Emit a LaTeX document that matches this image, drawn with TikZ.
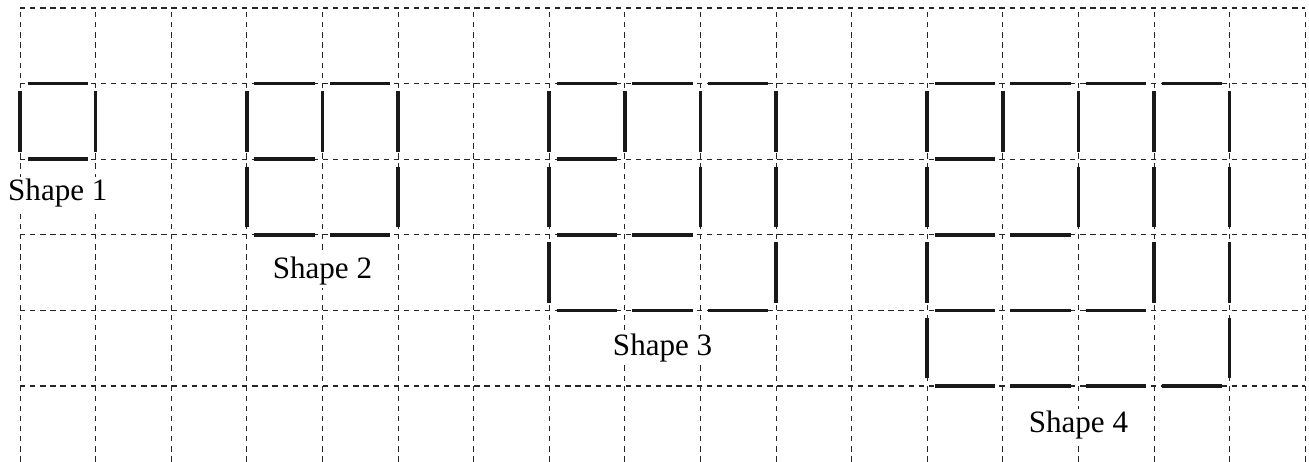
\documentclass[tikz,border=0pt]{standalone}
\usepackage{fontspec}
\setmainfont{Liberation Serif}

\tikzset{
    gridline/.style={dash pattern=on 2pt off 1.8pt, line width=0.4pt, black!85},
    stick/.style={line width=1.4pt, black!90},
    shapelabel/.style={anchor=base, inner sep=1pt, fill=white, font=\fontsize{11.7}{14}\selectfont}
}

\begin{document}
\begin{tikzpicture}
    \useasboundingbox (-0.265,0) rectangle (17.05,6.106);

    % dotted squared paper
    \foreach \x in {0,...,17} \draw[gridline] (\x,0) -- (\x,6);
    \foreach \y in {1,...,6} \draw[gridline] (0,\y) -- (17,\y);

    % horizontal matches (left end of the cell edge)
    \foreach \x/\y in {0/5, 0/4,
                       3/5, 4/5, 3/4, 3/3, 4/3,
                       7/5, 8/5, 9/5, 7/4, 7/3, 8/3, 7/2, 8/2, 9/2,
                       12/5, 13/5, 14/5, 15/5, 12/4, 12/3, 13/3,
                       12/2, 13/2, 14/2, 12/1, 13/1, 14/1, 15/1}
        \draw[stick] (\x+0.1,\y) -- (\x+0.9,\y);

    % vertical matches (lower end of the cell edge)
    \foreach \x/\y in {0/4, 1/4,
                       3/4, 4/4, 5/4, 3/3, 5/3,
                       7/4, 8/4, 9/4, 10/4, 7/3, 9/3, 10/3, 7/2, 10/2,
                       12/4, 13/4, 14/4, 15/4, 16/4, 12/3, 14/3, 15/3, 16/3,
                       12/2, 15/2, 16/2, 12/1, 16/1}
        \draw[stick] (\x,\y+0.1) -- (\x,\y+0.9);

    \node[shapelabel] at (0.5, 3.45) (S1) {Shape 1};
    \node[shapelabel] at (4, 2.42) (S2) {Shape 2};
    \node[shapelabel] at (8.5, 1.40) (S3) {Shape 3};
    \node[shapelabel] at (14, 0.38) (S4) {Shape 4};
\end{tikzpicture}
\end{document}
